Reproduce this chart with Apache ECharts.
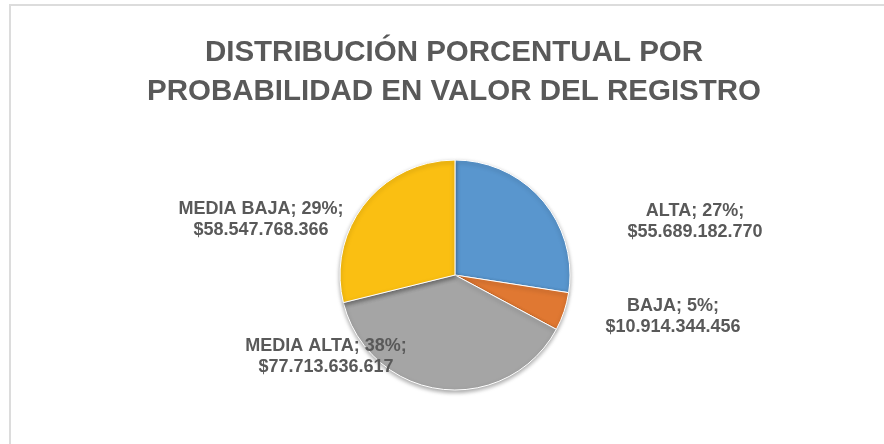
<!DOCTYPE html>
<html>
<head>
<meta charset="utf-8">
<script src="https://cdn.jsdelivr.net/npm/echarts@6/dist/echarts.min.js"></script>
<style>
  html, body { margin: 0; padding: 0; background: #fff; }
  #frame {
    position: absolute; left: 9px; top: 4px; right: 0; bottom: 0;
    border-top: 2px solid #dcdcdc; border-left: 2px solid #dcdcdc;
  }
  #pie { position: absolute; left: 0; top: 0; width: 884px; height: 444px; }
</style>
</head>
<body>
<div id="frame"></div>
<div id="pie"></div>
<script>
const titleText = "DISTRIBUCIÓN PORCENTUAL POR\nPROBABILIDAD EN VALOR DEL REGISTRO";
const categories = ["ALTA", "BAJA", "MEDIA ALTA", "MEDIA BAJA"];
const values = [55689182770, 10914344456, 77713636617, 58547768366];
const valueLabels = ["$55.689.182.770", "$10.914.344.456", "$77.713.636.617", "$58.547.768.366"];
const colors = ["#5996ce", "#e07832", "#a5a5a5", "#fabf12"];
// label block centers, px
const labelPos = [[695, 222], [673, 317], [326, 357], [261, 220]];

const textColor = "#595959";
let myChart = echarts.init(document.getElementById("pie"));
let option = {
  animation: false,
  title: {
    text: titleText,
    left: 449,
    top: 28,
    textAlign: "center",
    textStyle: {
      fontFamily: "Liberation Sans, Arial, sans-serif",
      fontSize: 29.5,
      fontWeight: "bold",
      color: textColor,
      lineHeight: 39
    }
  },
  series: [
    {
      type: "pie",
      center: [455, 275],
      radius: 115,
      startAngle: 90,
      clockwise: true,
      data: categories.map((c, i) => ({
        name: c,
        value: values[i],
        itemStyle: { color: colors[i] }
      })),
      itemStyle: {
        borderColor: "#fff",
        borderWidth: 1,
        shadowBlur: 4,
        shadowOffsetY: 2,
        shadowColor: "rgba(0,0,0,0.35)"
      },
      label: {
        show: true,
        position: "outside",
        formatter: p => p.name + "; " + Math.round(p.percent) + "%;\n" + valueLabels[p.dataIndex],
        fontFamily: "Liberation Sans, Arial, sans-serif",
        fontSize: 18,
        fontWeight: "bold",
        color: textColor,
        lineHeight: 21,
        align: "center"
      },
      labelLine: { show: false },
      labelLayout: p => ({
        x: labelPos[p.dataIndex][0],
        y: labelPos[p.dataIndex][1],
        align: "center",
        verticalAlign: "middle"
      })
    }
  ]
};
myChart.setOption(option);
</script>
</body>
</html>
